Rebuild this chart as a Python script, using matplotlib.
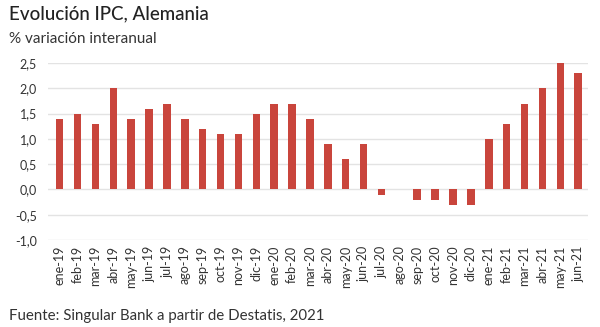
import matplotlib
matplotlib.use("Agg")
import matplotlib.pyplot as plt
from matplotlib.ticker import FuncFormatter

months = ["ene-19", "feb-19", "mar-19", "abr-19", "may-19", "jun-19", "jul-19", "ago-19",
          "sep-19", "oct-19", "nov-19", "dic-19", "ene-20", "feb-20", "mar-20", "abr-20",
          "may-20", "jun-20", "jul-20", "ago-20", "sep-20", "oct-20", "nov-20", "dic-20",
          "ene-21", "feb-21", "mar-21", "abr-21", "may-21", "jun-21"]
ipc = [1.4, 1.5, 1.3, 2.0, 1.4, 1.6, 1.7, 1.4, 1.2, 1.1, 1.1, 1.5, 1.7, 1.7, 1.4, 0.9,
       0.6, 0.9, -0.1, 0.0, -0.2, -0.2, -0.3, -0.3, 1.0, 1.3, 1.7, 2.0, 2.5, 2.3]
yticks = [-1.0, -0.5, 0.0, 0.5, 1.0, 1.5, 2.0, 2.5]

plt.rcParams["font.family"] = ["Lato", "DejaVu Sans"]
txt = "#333333"

fig = plt.figure(figsize=(6.0, 3.27), dpi=100)
ax = fig.add_axes([0.08, 0.266, 0.90, 0.541])
ax.bar(range(len(months)), ipc, width=0.42, color="#C9453C", zorder=3)
ax.set_ylim(-1.0, 2.5)
ax.set_xlim(-0.65, len(months) - 0.45)
ax.set_yticks(yticks)
ax.yaxis.set_major_formatter(FuncFormatter(lambda v, p: f"{v:.1f}".replace(".", ",")))
ax.set_xticks(range(len(months)))
ax.set_xticklabels(months, rotation=90, fontsize=9, color=txt)
ax.tick_params(axis="y", labelsize=9, labelcolor=txt, length=0, pad=8)
ax.tick_params(axis="x", length=0, pad=4)
ax.grid(axis="y", color="#E3E3E3", linewidth=1, zorder=0)
for s in ax.spines.values():
    s.set_visible(False)

fig.text(0.015, 0.94, "Evolución IPC, Alemania", fontsize=13.5, color="#222222", weight="medium")
fig.text(0.015, 0.87, "% variación interanual", fontsize=11, color=txt)
fig.text(0.015, 0.02, "Fuente: Singular Bank a partir de Destatis, 2021", fontsize=10.8, color=txt)

fig.savefig("out.png", dpi=100)
